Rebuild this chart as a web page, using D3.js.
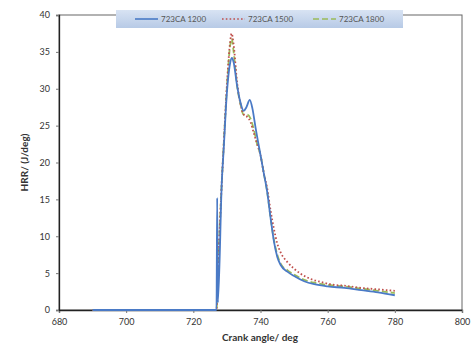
<!DOCTYPE html>
<html>
<head>
<meta charset="utf-8">
<script src="https://cdn.jsdelivr.net/npm/d3@7"></script>
<style>
  html, body { margin: 0; padding: 0; background: #fff; }
  svg { display: block; font-family: Lato, "Open Sans", sans-serif; }
</style>
</head>
<body>
<svg id="chart" width="471" height="345"></svg>
<script>
// Heat release rate vs crank angle for three engine speeds
const seriesNames = ["723CA 1200", "723CA 1500", "723CA 1800"];

const crank1200 = [690, 726.9, 727.1, 727.3, 728.5, 729, 730, 731, 731.5, 732, 733, 734, 735, 735.8, 736.8, 737.6, 738.5, 740, 741, 742, 743, 744, 745, 746, 748, 750, 753, 756, 760, 765, 770, 775, 780];
const hrr1200   = [0,   0,     15.2,  1.0,   17.6,  21.5, 29.5, 33.6, 34.2, 33.6, 30.5, 28.2, 27.0, 27.5, 28.5, 27.3, 24.8, 21.0, 18.5, 16.0, 12.5, 9.3, 7.2, 6.1, 5.2, 4.6, 3.9, 3.5, 3.2, 3.0, 2.7, 2.4, 2.0];

const crank1500 = [690, 726.9, 727.4, 728.5, 729, 730, 731, 731.4, 732, 733, 734, 735, 736, 737, 738, 739, 740, 741, 742, 743, 744, 745, 746, 748, 750, 752, 755, 758, 762, 765, 770, 775, 780];
const hrr1500   = [0,   0,     6,     17.6,  22,  30.5, 36.5, 37.5, 36.0, 31.0, 28.0, 26.5, 26.2, 25.5, 24.0, 22.5, 21.0, 18.5, 16.5, 13.5, 11.0, 9.0, 7.8, 6.5, 5.6, 4.9, 4.2, 3.8, 3.4, 3.3, 3.0, 2.8, 2.6];

const crank1800 = [690, 726.9, 727.4, 728.5, 729, 730, 731, 731.4, 732, 733, 734, 735, 736, 737, 738, 739, 740, 741, 742, 743, 744, 745, 746, 748, 750, 753, 756, 760, 765, 770, 775, 780];
const hrr1800   = [0,   0,     6,     17.6,  22,  30.2, 36.0, 36.8, 35.0, 30.5, 28.0, 26.5, 26.5, 26.0, 24.5, 22.5, 21.0, 18.5, 16.0, 12.5, 9.5, 7.5, 6.3, 5.4, 4.8, 4.1, 3.7, 3.4, 3.2, 2.9, 2.6, 2.3];

const xTicks = [680, 700, 720, 740, 760, 780, 800];
const yTicks = [0, 5, 10, 15, 20, 25, 30, 35, 40];

const colors = ["#4a7ac6", "#c0504d", "#9bbb59"];
const dashes = [null, "1.6,2.2", "6,3"];

const svg = d3.select("#chart");
const m = { left: 59, top: 15, right: 462, bottom: 310 };

const x = d3.scaleLinear().domain([680, 800]).range([m.left, m.right]);
const y = d3.scaleLinear().domain([0, 40]).range([m.bottom, m.top]);

// plot frame
svg.append("rect")
  .attr("x", m.left).attr("y", m.top)
  .attr("width", m.right - m.left).attr("height", m.bottom - m.top)
  .attr("fill", "none").attr("stroke", "#666").attr("stroke-width", 1);

// axes
const xAxis = svg.append("g")
  .attr("transform", `translate(0,${m.bottom})`)
  .call(d3.axisBottom(x).tickValues(xTicks).tickSize(3).tickPadding(6));
const yAxis = svg.append("g")
  .attr("transform", `translate(${m.left},0)`)
  .call(d3.axisLeft(y).tickValues(yTicks).tickSize(3).tickPadding(6));

[xAxis, yAxis].forEach(g => {
  g.select(".domain").attr("stroke", "#222").attr("stroke-width", 1.3);
  g.selectAll(".tick line").attr("stroke", "#777");
  g.selectAll(".tick text").attr("fill", "#333").style("font-size", "9px")
    .style("font-family", "Lato, 'Open Sans', sans-serif");
});

// axis titles
svg.append("text")
  .attr("x", 260).attr("y", 341)
  .attr("text-anchor", "middle")
  .style("font-size", "10px").style("font-weight", "bold").attr("fill", "#333")
  .text("Crank angle/ deg");

svg.append("text")
  .attr("transform", `translate(28,${(m.top + m.bottom) / 2}) rotate(-90)`)
  .attr("text-anchor", "middle")
  .style("font-size", "10px").style("font-weight", "bold").attr("fill", "#333")
  .text("HRR/ (J/deg)");

// curves
const line = d3.line().curve(d3.curveMonotoneX).x(d => x(d[0])).y(d => y(d[1]));
const data = [
  d3.zip(crank1200, hrr1200),
  d3.zip(crank1500, hrr1500),
  d3.zip(crank1800, hrr1800)
];
// draw 1800 first, then 1500, then 1200 on top
[2, 1, 0].forEach(i => {
  svg.append("path")
    .datum(data[i])
    .attr("d", line)
    .attr("fill", "none")
    .attr("stroke", colors[i])
    .attr("stroke-width", 1.8)
    .attr("stroke-dasharray", dashes[i])
    .attr("stroke-linejoin", "round");
});

// legend
const defs = svg.append("defs");
const grad = defs.append("linearGradient").attr("id", "legendBg")
  .attr("x1", 0).attr("y1", 0).attr("x2", 0).attr("y2", 1);
grad.append("stop").attr("offset", "0%").attr("stop-color", "#d8e3f3");
grad.append("stop").attr("offset", "100%").attr("stop-color", "#b7cae6");

const legend = svg.append("g").attr("transform", "translate(116,10)");
legend.append("rect").attr("width", 287).attr("height", 18).attr("fill", "url(#legendBg)");

const legendX = [19, 106, 197];
seriesNames.forEach((name, i) => {
  const g = legend.append("g").attr("transform", `translate(${legendX[i]},9)`);
  g.append("line").attr("x1", 0).attr("x2", 23).attr("y1", 0).attr("y2", 0)
    .attr("stroke", colors[i]).attr("stroke-width", 1.6)
    .attr("stroke-dasharray", dashes[i]);
  g.append("text").attr("x", 26).attr("y", 3)
    .style("font-size", "8px").attr("fill", "#555")
    .text(name);
});
</script>
</body>
</html>
